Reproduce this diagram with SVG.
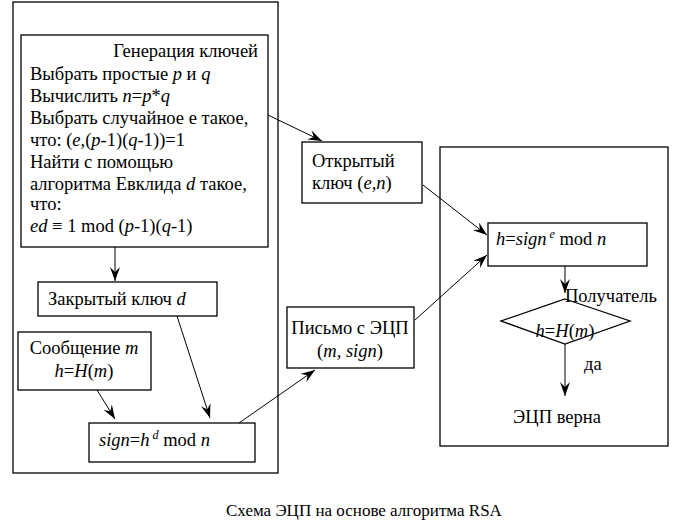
<svg xmlns="http://www.w3.org/2000/svg" width="675" height="532" viewBox="0 0 675 532" font-family="Liberation Serif, serif" font-size="18.5">
<style>
.b{fill:#fff;stroke:#000;stroke-width:1.3}
.o{fill:none;stroke:#000;stroke-width:1.3}
.i{font-style:italic}
.c{text-anchor:middle}
.e{stroke:#000;stroke-width:1;fill:none;marker-end:url(#a)}
</style>
<defs>
<marker id="a" viewBox="0 0 14 10" refX="14" refY="5" markerWidth="14" markerHeight="10" markerUnits="userSpaceOnUse" orient="auto">
<path d="M0,0 L14,5 L0,10 L5,5 z" fill="#000"/>
</marker>
</defs>
<rect width="675" height="532" fill="#fff"/>
<g id="sender"><rect class="o" x="13" y="2" width="265" height="471"/></g>
<g id="receiver"><rect class="o" x="440" y="147" width="228" height="299"/></g>
<g id="keygen">
<rect class="b" x="21" y="35" width="247" height="212"/>
<text x="258" y="57" text-anchor="end">Генерация ключей</text>
<text x="30" y="80">Выбрать простые <tspan class="i">p</tspan> и <tspan class="i">q</tspan></text>
<text x="30" y="102">Вычислить <tspan class="i">n</tspan>=<tspan class="i">p</tspan>*<tspan class="i">q</tspan></text>
<text x="30" y="124">Выбрать случайное е такое,</text>
<text x="30" y="146">что: (<tspan class="i">e</tspan>,(<tspan class="i">p</tspan>-1)(<tspan class="i">q</tspan>-1))=1</text>
<text x="30" y="168">Найти с помощью</text>
<text x="30" y="190">алгоритма Евклида <tspan class="i">d</tspan> такое,</text>
<text x="30" y="210">что:</text>
<text x="30" y="232"><tspan class="i">ed</tspan> ≡ 1 mod (<tspan class="i">p</tspan>-1)(<tspan class="i">q</tspan>-1)</text>
</g>
<g id="private">
<rect class="b" x="38" y="282" width="179" height="34"/>
<text x="48" y="305">Закрытый ключ <tspan class="i">d</tspan></text>
</g>
<g id="message">
<rect class="b" x="18" y="332" width="133" height="58"/>
<text class="c" x="84" y="354">Сообщение <tspan class="i">m</tspan></text>
<text class="c" x="84" y="377"><tspan class="i">h</tspan>=<tspan class="i">H</tspan>(<tspan class="i">m</tspan>)</text>
</g>
<g id="sign">
<rect class="b" x="89" y="423" width="166" height="39"/>
<text x="99" y="446"><tspan class="i">sign</tspan>=<tspan class="i">h</tspan><tspan dy="-7" font-size="12" class="i"> d</tspan><tspan dy="7"> mod </tspan><tspan class="i">n</tspan></text>
</g>
<g id="public">
<rect class="b" x="302" y="142" width="120" height="61"/>
<text x="312" y="167">Открытый</text>
<text x="312" y="189">ключ (<tspan class="i">e</tspan>,<tspan class="i">n</tspan>)</text>
</g>
<g id="letter">
<rect class="b" x="287" y="307" width="127" height="61"/>
<text class="c" x="350" y="334">Письмо с ЭЦП</text>
<text class="c" x="350" y="357">(<tspan class="i">m, sign</tspan>)</text>
</g>
<g id="verify">
<rect class="b" x="488" y="223" width="159" height="43"/>
<text x="496" y="245"><tspan class="i">h</tspan>=<tspan class="i">sign</tspan><tspan dy="-7" font-size="12" class="i"> e</tspan><tspan dy="7"> mod </tspan><tspan class="i">n</tspan></text>
</g>
<g id="check">
<polygon class="b" points="565,299 630,321 565,344 501,321"/>
<text x="565" y="302">Получатель</text>
<text class="c" x="565" y="337"><tspan class="i">h</tspan>=<tspan class="i">H</tspan>(<tspan class="i">m</tspan>)</text>
</g>
<g id="valid">
<text class="c" x="557" y="423">ЭЦП верна</text>
</g>
<g id="connectors">
<line class="e" x1="115" y1="247" x2="115" y2="281"/>
<line class="e" x1="268" y1="115" x2="322" y2="141"/>
<line class="e" x1="177" y1="316" x2="210" y2="418"/>
<line class="e" x1="97" y1="390" x2="115" y2="419"/>
<line class="e" x1="239" y1="423" x2="315" y2="370"/>
<line class="e" x1="415" y1="320" x2="487" y2="255"/>
<line class="e" x1="423" y1="185" x2="487" y2="235"/>
<line class="e" x1="565" y1="266" x2="565" y2="293"/>
<line class="e" x1="565" y1="344" x2="565" y2="396"/>
<text x="584" y="370">да</text>
</g>
<text x="226" y="516" font-size="17">Схема ЭЦП на основе алгоритма RSA</text>
</svg>
